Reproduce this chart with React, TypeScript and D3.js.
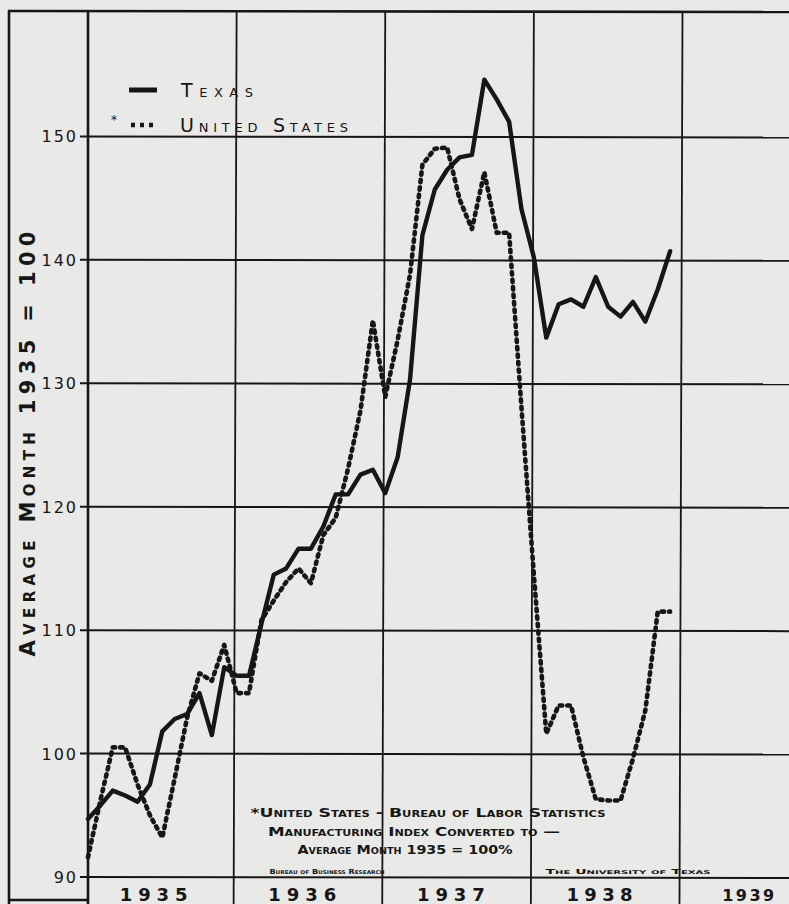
import React from "react";
import * as d3 from "d3";

// monthly index values, Jan 1935 .. Dec 1938 (average month 1935 = 100)
const texas = [
  94.7, 95.8, 97.0, 96.6, 96.1, 97.5, 101.8, 102.8, 103.2, 104.9, 101.5, 107.0,
  106.3, 106.3, 110.5, 114.5, 115.0, 116.6, 116.6, 118.4, 121.0, 121.0, 122.6, 123.0,
  121.1, 124.0, 130.3, 142.0, 145.7, 147.3, 148.3, 148.5, 154.6, 153.0, 151.2, 144.1,
  140.2, 133.7, 136.4, 136.8, 136.2, 138.6, 136.2, 135.4, 136.6, 135.0, 137.6, 140.7,
];
const unitedStates = [
  91.6, 96.2, 100.5, 100.5, 97.5, 95.0, 93.2, 98.0, 102.9, 106.5, 105.9, 108.8,
  104.9, 104.9, 110.8, 112.4, 113.9, 115.0, 113.8, 117.7, 119.1, 123.1, 127.8, 135.1,
  128.9, 133.5, 138.8, 147.7, 149.0, 149.1, 144.9, 142.5, 147.1, 142.2, 142.2, 128.0,
  114.5, 101.6, 103.9, 103.9, 99.7, 96.3, 96.2, 96.2, 99.6, 103.5, 111.5, 111.5,
];
const years = ["1935", "1936", "1937", "1938", "1939"];
const yTicks = [90, 100, 110, 120, 130, 140, 150];
const notes = [
  "*United States - Bureau of Labor Statistics",
  "Manufacturing Index Converted to —",
  "Average Month 1935 = 100%",
];

const W = 789;
const H = 904;
const ink = "#161616";
const font = "'DejaVu Sans', sans-serif";

export default function App() {
  const x = d3.scaleLinear().domain([0, 48]).range([88, 682.5]);
  const y = d3.scaleLinear().domain([90, 160]).range([877, 13]);

  const line = d3
    .line<number>()
    .x((_, i) => x(i))
    .y((d) => y(d))
    .curve(d3.curveLinear);

  const noteW = [355, 292, 215];
  const yearW = [68, 68, 68, 66, 52];

  return (
    <svg
      width={W}
      height={H}
      style={{ position: "absolute", left: 0, top: 0, display: "block" }}
    >
      <rect width={W} height={H} fill="#e9e9e7" />

      {/* frame */}
      <g stroke={ink} fill="none">
        <line x1={8} x2={W} y1={11} y2={12} strokeWidth={2.6} />
        <line x1={9} x2={9} y1={10} y2={H} strokeWidth={2.6} />
        <line x1={8} x2={88} y1={900} y2={900} strokeWidth={2.4} />
      </g>

      {/* horizontal grid */}
      <g stroke={ink} strokeWidth={2}>
        {yTicks.map((t) => (
          <line key={t} x1={x(0) - 8} x2={W} y1={y(t)} y2={y(t) + 1} />
        ))}
      </g>

      {/* year gridlines */}
      <g stroke={ink} strokeWidth={1.8}>
        {years.map((yr, i) => (
          <line
            key={yr}
            x1={x(i * 12)}
            x2={x(i * 12) - (i === 0 ? 0 : 3)}
            y1={12}
            y2={H}
            strokeWidth={i === 0 ? 2.6 : 1.8}
          />
        ))}
      </g>

      {/* y tick labels */}
      <g fill={ink} fontFamily={font} fontSize={16} textAnchor="end">
        {yTicks.map((t) => (
          <text key={t} x={78} y={y(t) + 6} letterSpacing={2}>
            {t}
          </text>
        ))}
      </g>

      {/* y title */}
      <text
        transform="translate(35,444) rotate(-90)"
        textAnchor="middle"
        fill={ink}
        fontFamily={font}
        fontWeight="bold"
        fontSize={21}
        style={{ fontVariant: "small-caps" }}
        textLength={425}
        lengthAdjust="spacing"
      >
        Average Month 1935 = 100
      </text>

      {/* year labels */}
      <g fill={ink} fontFamily={font} fontWeight="bold" textAnchor="middle">
        {years.map((yr, i) => (
          <text
            key={yr}
            x={x(i * 12 + 5.3)}
            y={901}
            fontSize={i === 4 ? 16 : 18}
            textLength={yearW[i]}
            lengthAdjust="spacing"
          >
            {yr}
          </text>
        ))}
      </g>

      {/* series */}
      <path
        d={line(unitedStates) ?? ""}
        fill="none"
        stroke={ink}
        strokeWidth={4.6}
        strokeDasharray="2.5 5"
        strokeLinecap="round"
        strokeLinejoin="round"
      />
      <path
        d={line(texas) ?? ""}
        fill="none"
        stroke={ink}
        strokeWidth={4.4}
        strokeLinejoin="round"
        strokeLinecap="round"
      />

      {/* legend */}
      <g fill={ink} fontFamily={font} style={{ fontVariant: "small-caps" }}>
        <line x1={129} x2={157} y1={90} y2={90} stroke={ink} strokeWidth={5} />
        <text x={181} y={97} fontSize={19} textLength={72} lengthAdjust="spacing">
          Texas
        </text>
        <text x={111} y={124} fontSize={12}>*</text>
        <line
          x1={131}
          x2={155}
          y1={125}
          y2={125}
          stroke={ink}
          strokeWidth={4.5}
          strokeDasharray="4 5"
        />
        <text x={180} y={132} fontSize={19} textLength={168} lengthAdjust="spacing">
          United States
        </text>
      </g>

      {/* source note */}
      <g
        fill={ink}
        fontFamily={font}
        fontWeight="bold"
        textAnchor="middle"
        style={{ fontVariant: "small-caps" }}
      >
        {notes.map((n, i) => (
          <text
            key={n}
            x={[428, 414, 405][i]}
            y={817 + i * 18.5}
            fontSize={12}
            textLength={noteW[i]}
            lengthAdjust="spacingAndGlyphs"
          >
            {n}
          </text>
        ))}
        <text x={327} y={874} fontSize={7} textLength={115} lengthAdjust="spacingAndGlyphs">
          Bureau of Business Research
        </text>
        <text x={628} y={874} fontSize={7} textLength={165} lengthAdjust="spacingAndGlyphs">
          The University of Texas
        </text>
      </g>
    </svg>
  );
}
